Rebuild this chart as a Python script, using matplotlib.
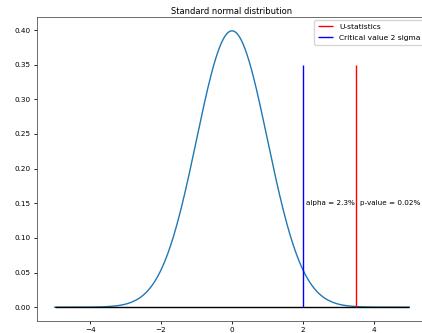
import numpy as np
import matplotlib
matplotlib.use("Agg")
import matplotlib.pyplot as plt

# standard normal curve parameters
mu = 0.0
sigma = 1.0
x_min, x_max = -5, 5
n_points = 1000

u_stat = 3.5          # U-statistics
crit_value = 2.0      # critical value, 2 sigma
line_top = 0.35
alpha_label = "alpha = 2.3%"
pvalue_label = "p-value = 0.02%"

x = np.linspace(x_min, x_max, n_points)
pdf = np.exp(-0.5 * ((x - mu) / sigma) ** 2) / (sigma * np.sqrt(2 * np.pi))

fs = 5.2
fig = plt.figure(figsize=(4.22, 3.33), dpi=100)
ax = fig.add_axes([37 / 422, 12 / 333, 390 / 422, 304 / 333])

ax.plot(x, pdf, color="C0", lw=1.0)
ax.hlines(0, x_min, x_max, color="black", lw=1.0)
ax.vlines(u_stat, 0, line_top, color="red", lw=1.0, label="U-statistics")
ax.vlines(crit_value, 0, line_top, color="blue", lw=1.0, label="Critical value 2 sigma")

ax.text(crit_value + 0.1, 0.148, alpha_label, fontsize=fs)
ax.text(u_stat + 0.1, 0.148, pvalue_label, fontsize=fs)

ax.set_title("Standard normal distribution", fontsize=6.0, pad=2.0)
ax.tick_params(labelsize=5.2, length=2.5, width=0.6, pad=2)
ax.set_yticks([0.0, 0.05, 0.10, 0.15, 0.20, 0.25, 0.30, 0.35, 0.40])
for s in ax.spines.values():
    s.set_linewidth(0.6)
    s.set_color("#555555")
ax.legend(loc="upper right", fontsize=5.4, handlelength=2.0, borderpad=0.5,
          labelspacing=0.6, framealpha=0.8, borderaxespad=0.4)

fig.savefig("out.png", dpi=100)
